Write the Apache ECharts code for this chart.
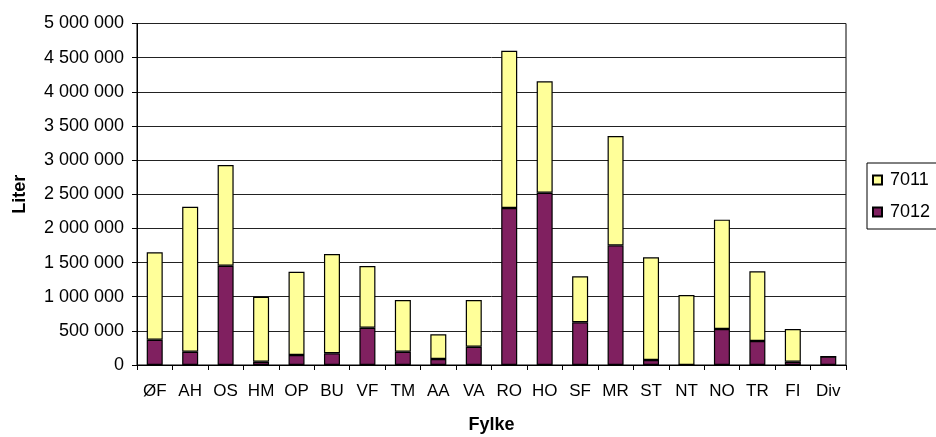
<!DOCTYPE html>
<html>
<head>
<meta charset="utf-8">
<script src="https://cdn.jsdelivr.net/npm/echarts@6/dist/echarts.min.js"></script>
<style>
html,body{margin:0;padding:0;background:#fff;}
#chart{width:936px;height:437px;}
</style>
</head>
<body>
<div id="chart"></div>
<script>
const categories = ['ØF','AH','OS','HM','OP','BU','VF','TM','AA','VA','RO','HO','SF','MR','ST','NT','NO','TR','FI','Div'];
const values7012 = [370000,195000,1454000,48000,146000,171000,546000,195000,88000,268000,2299000,2523000,625000,1752000,73000,0,527000,351000,48000,122000];
const values7011 = [1280000,2123000,1474000,952000,1220000,1454000,904000,757000,361000,684000,2303000,1630000,673000,1601000,1503000,1025000,1601000,1020000,479000,0];
const yTicks = {min:0, max:5000000, interval:500000};

const FONT = '"Liberation Sans", Arial, sans-serif';
const fmt = v => String(v).replace(/\B(?=(\d{3})+(?!\d))/g, ' ');

const chart = echarts.init(document.getElementById('chart'));
chart.setOption({
  animation:false,
  grid:{left:137, right:90, top:23.5, bottom:72, outerBoundsMode:'none', containLabel:false,
        show:true, borderColor:'#000', borderWidth:1, backgroundColor:'transparent'},
  legend:{
    orient:'vertical', left:867, top:163, data:['7011','7012'],
    icon:'rect', itemWidth:9, itemHeight:9, itemGap:14,
    padding:[8,12,8,5], borderColor:'#000', borderWidth:1,
    textStyle:{fontFamily:FONT, fontSize:18, color:'#000', padding:[0,0,0,3]}
  },
  xAxis:{
    type:'category', data:categories,
    name:'Fylke', nameLocation:'middle', nameGap:51,
    nameTextStyle:{fontFamily:FONT, fontSize:18, fontWeight:'bold', color:'#000'},
    axisLine:{lineStyle:{color:'#000', width:1}},
    axisTick:{show:true, alignWithLabel:false, length:5, lineStyle:{color:'#000'}},
    axisLabel:{interval:0, margin:18, fontFamily:FONT, fontSize:17, color:'#000'}
  },
  yAxis:{
    type:'value', min:yTicks.min, max:yTicks.max, interval:yTicks.interval,
    name:'Liter', nameLocation:'middle', nameGap:108, nameRotate:90,
    nameTextStyle:{fontFamily:FONT, fontSize:18, fontWeight:'bold', color:'#000'},
    axisLine:{show:true, lineStyle:{color:'#000', width:1}},
    axisTick:{show:true, length:5, lineStyle:{color:'#000'}},
    axisLabel:{margin:13, fontFamily:FONT, fontSize:18, color:'#000', formatter:fmt},
    splitLine:{show:true, lineStyle:{color:'#222', width:1}}
  },
  series:[
    {name:'7012', type:'bar', stack:'s', data:values7012, barWidth:16,
     itemStyle:{color:'#802060', borderColor:'#000', borderWidth:1.2}},
    {name:'7011', type:'bar', stack:'s', data:values7011, barWidth:16,
     itemStyle:{color:'#FFFF99', borderColor:'#000', borderWidth:1.2}}
  ]
});
</script>
</body>
</html>
